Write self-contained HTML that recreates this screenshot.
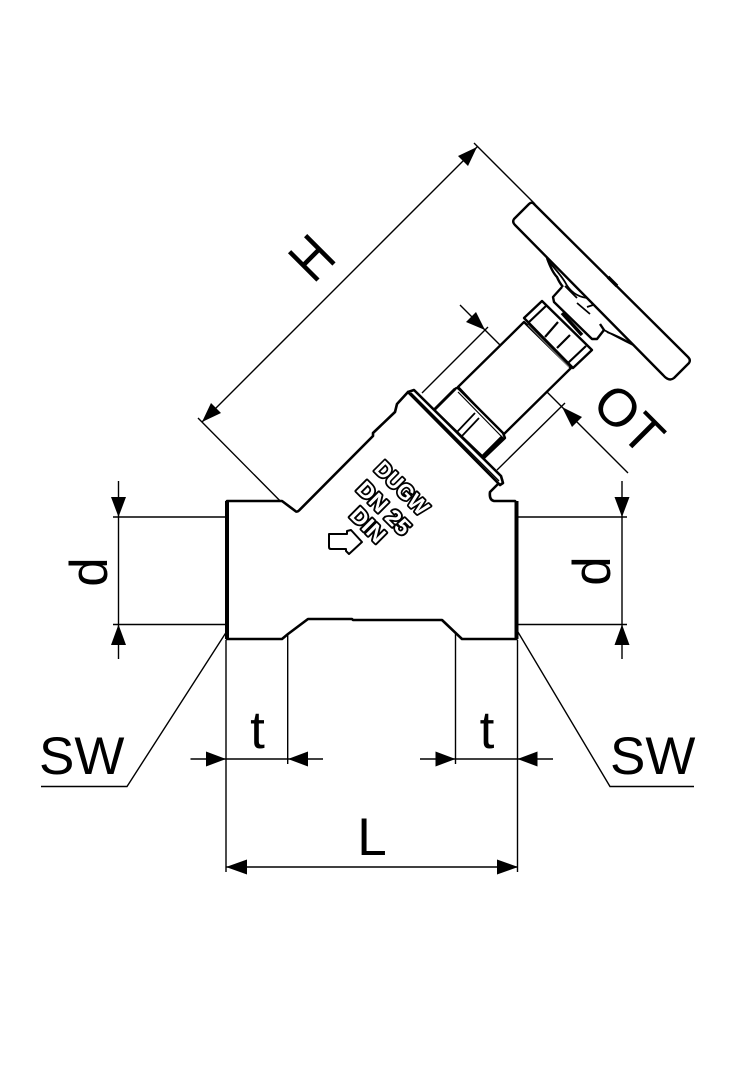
<!DOCTYPE html>
<html><head><meta charset="utf-8"><style>html,body{margin:0;padding:0;background:#fff}svg{display:block}text{font-family:"Liberation Sans",sans-serif;fill:#000}</style></head><body>
<svg width="756" height="1080" viewBox="0 0 756 1080" xmlns="http://www.w3.org/2000/svg">
<rect width="756" height="1080" fill="#fff"/>
<!-- thin dimension lines -->
<g fill="none" stroke="#000" stroke-width="1.4">
<path d="M477 147L202 422M474 143L535 204M198 418L300 521"/>
<path d="M460 305L628 473M488 327L422 393M565 403L497 470"/>
<path d="M118.500 481V659M113 517H227M113 624.500H227"/>
<path d="M622 481V659M517 517H627M517 624.500H627"/>
<path d="M190.500 759H323M226 640V872M287.700 625V764"/>
<path d="M420 759H553M455.500 625V764M517.500 640V872"/>
<path d="M226 867H518"/>
<path d="M263 575L127 786.500H41M484 575L610 786.500H694"/>
</g>
<!-- arrowheads -->
<g fill="#000">
<path d="M118.500 517L111 497H126Z"/><path d="M118.500 624.500L111 645H126Z"/>
<path d="M622 517L614.500 497H629.500Z"/><path d="M622 624.500L614.500 645H629.500Z"/>
<path d="M226 759L206 751.500V766.500Z"/><path d="M288 759L308 751.500V766.500Z"/>
<path d="M455.500 759L435.500 751.500V766.500Z"/><path d="M517.500 759L537.500 751.500V766.500Z"/>
<path d="M226 867L247 859.500V874.500Z"/><path d="M518 867L497 859.500V874.500Z"/>
<path d="M477 147L458 156L468 166Z"/><path d="M202 422L221 413L211 403Z"/>
<path d="M485 330L466 322L476 312Z"/><path d="M562 407L572 427L582 417Z"/>
<circle cx="267.500" cy="568.500" r="7.300"/><circle cx="478.500" cy="568.500" r="7.300"/>
</g>
<!-- body -->
<path d="M227 501H282L296 511.500Q297.500 512 299 510.500L373 436V433L395 412L397 404L408 392L502 480L490 492Q489 500 494 501H515L516.500 503V639H462L442 620H353L352 619H308L288 634L282 639H227Z" fill="#fff" stroke="#000" stroke-width="2.600" stroke-linejoin="round"/>
<path d="M227 501V639M516.500 501V639" stroke="#000" stroke-width="4" fill="none"/>
<!-- stem -->
<g fill="#fff" stroke="#000" stroke-width="2.400" stroke-linejoin="round">
<path d="M458 387L524 322L571 368L503 435Z"/>
<path d="M528 325L569 367" fill="none" stroke="#777" stroke-width="1"/>
<!-- lower nut -->
<path d="M434 410L455 389Q457 387 459 389L503 433L505 438L484 458Z"/>
<path d="M458 392L501 436" fill="none" stroke-width="1.200"/>
<path d="M457 432L475 413M462 436L479 418" fill="none" stroke-width="1.800"/>
<path d="M483 457L503 437" fill="none" stroke-width="4.500"/>
<path d="M434 410L455 389" fill="none" stroke-width="3"/>
<!-- upper nut -->
<path d="M524 318L542 301L592 350L573 368Z"/>
<path d="M528 323L547 305M568 363L586 346M545 337L558 322M557 348L570 335" fill="none" stroke-width="2.200"/>
<path d="M528 323L572 367" fill="none" stroke-width="1.800"/>
</g>
<!-- cone, hub, handwheel -->
<path d="M547 258L557 277L563 287L600 324L604 330L633 345Z" fill="#fff"/>
<g fill="#fff" stroke="#000" stroke-width="2.400" stroke-linejoin="round">
<path d="M562 287L553 297L554 302L592 339L597 339L604 330L600 324" fill="none"/>
<path d="M547 258Q552 272 557 277Q559 282 563 287" fill="none"/>
<path d="M549 262Q560 274 565 282Q572 296 587 298" fill="none" stroke-width="1.800"/>
<path d="M565 286L577 298M577 303L590 314M587 307L593 305" fill="none" stroke-width="1.800"/>
<path d="M604 330Q617 337 633 345M607 332Q620 337 630 343" fill="none" stroke-width="1.800"/>
<path d="M562 313L582 335" fill="none" stroke-width="3.500"/>
<path d="M515 225L663 375Q669 382 674 378L689 363Q691 360 688 357L533 203Q531 202 529 204L514 219Q512 222 515 225Z"/>
<path d="M608 277L617 286" fill="none" stroke-width="3.500"/>
</g>
<!-- flange -->
<path d="M408 392L414 390L501 476L503 483L500 485Z" fill="#fff" stroke="#000" stroke-width="2.600" stroke-linejoin="round"/>
<path d="M411 393L499 481" stroke="#000" stroke-width="1.400" fill="none"/>
<!-- body lettering -->
<g font-weight="bold" text-anchor="middle">
<text transform="translate(396.600 493.400) rotate(45)" font-size="22" textLength="66" lengthAdjust="spacingAndGlyphs" style="fill:#fff;stroke:#000;stroke-width:3.600;stroke-linejoin:round;paint-order:stroke">DUGW</text>
<text transform="translate(378.600 513.400) rotate(45)" font-size="22" textLength="66" lengthAdjust="spacingAndGlyphs" style="fill:#fff;stroke:#000;stroke-width:3.600;stroke-linejoin:round;paint-order:stroke">DN 25</text>
<text transform="translate(362.600 530.400) rotate(45)" font-size="22" textLength="40" lengthAdjust="spacingAndGlyphs" style="fill:#fff;stroke:#000;stroke-width:3.600;stroke-linejoin:round;paint-order:stroke">DIN</text>
</g>
<path d="M329 534H347V531L351 530L362 542L349 554L346 551V549H331Q329 549 329 547Z" fill="#fff" stroke="#000" stroke-width="2" stroke-linejoin="round"/>
<!-- labels -->
<g font-size="53">
<text x="39" y="774">SW</text>
<text x="610" y="774">SW</text>
<text x="257.500" y="748" text-anchor="middle">t</text>
<text x="487" y="748" text-anchor="middle">t</text>
<text x="372" y="855" text-anchor="middle">L</text>
<text transform="translate(107 572) rotate(-90)" text-anchor="middle">d</text>
<text transform="translate(610 571) rotate(-90)" text-anchor="middle">d</text>
<text transform="translate(326 272) rotate(-45) scale(.92 1.1)" text-anchor="middle">H</text>
<text transform="translate(616 432) rotate(45)" text-anchor="middle">OT</text>
</g>
</svg>
</body></html>
